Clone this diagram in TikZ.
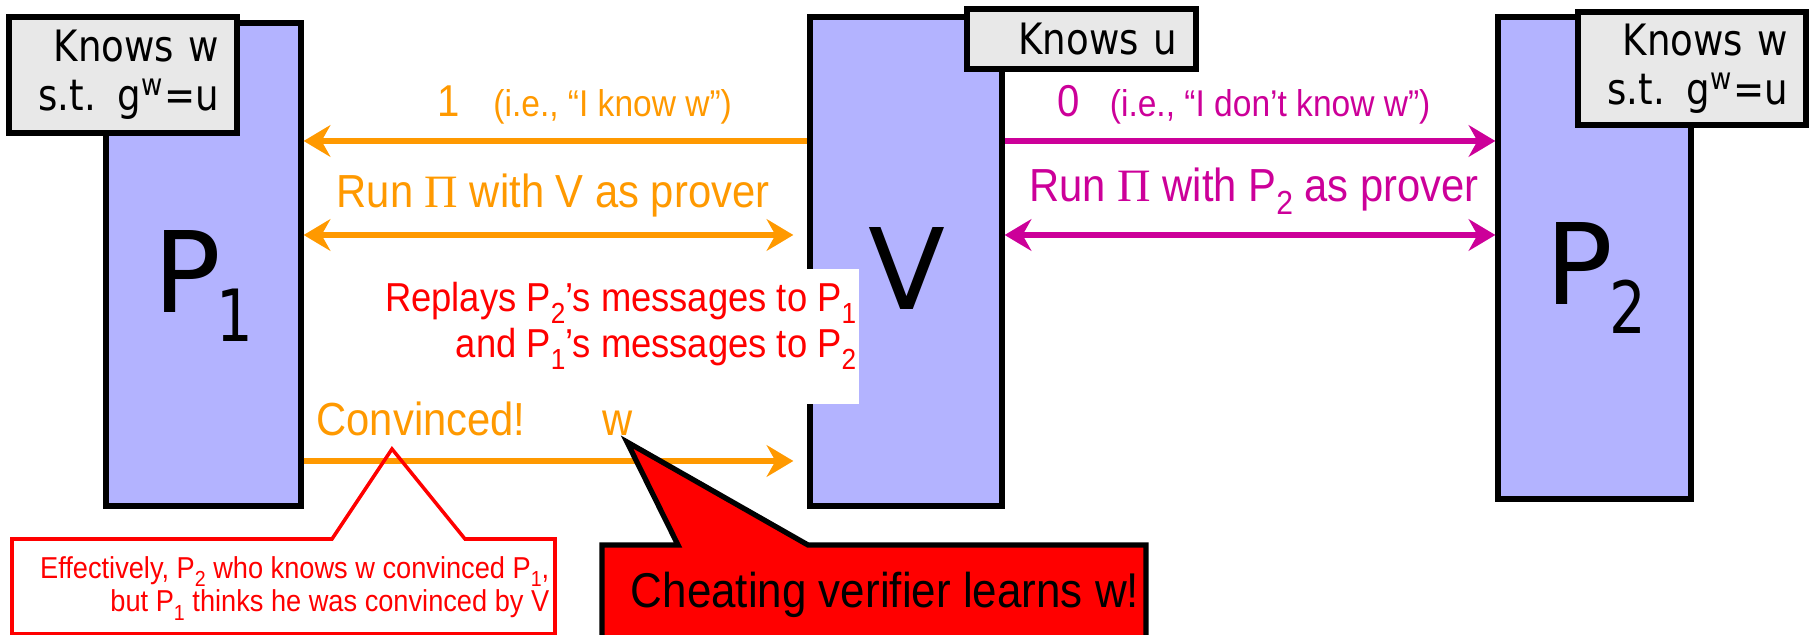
\documentclass[tikz,border=0pt]{standalone}
\usepackage{fontspec}
\usepackage{graphicx}
\setmainfont{Liberation Sans}[FakeStretch=0.9]
\newfontfamily\tfont{DejaVu Sans}[FakeStretch=0.86]
\newfontfamily\bigfont{DejaVu Sans}
\newfontfamily\bigsubfont{DejaVu Sans}[FakeStretch=0.8]
\newfontfamily\serifpi{Liberation Serif}
\usetikzlibrary{arrows.meta}
\definecolor{lav}{HTML}{B3B3FF}
\definecolor{boxgray}{HTML}{E8E8E8}
\definecolor{orng}{HTML}{FF9900}
\definecolor{mag}{HTML}{CC0099}
\definecolor{redc}{HTML}{FF0000}
\newcommand\lsub[1]{\raisebox{-0.28em}{\scalebox{0.72}{#1}}}
\newcommand\PI{{\serifpi\symbol{"03A0}}}
\newcommand\bigsub[1]{\raisebox{-8.2pt}{\bigsubfont\fontsize{20.5}{24}\selectfont #1}}
\tikzset{
  prover/.style={draw=black, line width=1.5pt, fill=lav, inner sep=0},
  knowbox/.style={draw=black, line width=1.6pt, fill=boxgray, inner ysep=0, align=right,
    font=\tfont\fontsize{12.3}{14}\selectfont},
  biglab/.style={inner sep=0, anchor=base west, font=\bigfont\fontsize{32}{38}\selectfont},
  tip/.style={-{Stealth[length=7.6pt,width=9pt,inset=2.5pt]}},
  dtip/.style={{Stealth[length=7.6pt,width=9pt,inset=2.5pt]}-{Stealth[length=7.6pt,width=9pt,inset=2.5pt]}},
  oline/.style={draw=orng, line width=1.5pt},
  mline/.style={draw=mag, line width=1.5pt},
  msgbig/.style={inner sep=0, anchor=base, font=\fontsize{13.2}{15}\selectfont},
  msgpair/.style={inner sep=0, anchor=base west, font=\fontsize{12.7}{15}\selectfont},
}
\begin{document}
\begin{tikzpicture}[x=0.1mm, y=-0.1mm]
\useasboundingbox (0,0) rectangle (1810,635);
% main boxes
\node[prover, minimum width=19.5mm, minimum height=48.3mm] (P1) at (203.5,264.5) {};
\node[prover, minimum width=19.2mm, minimum height=48.9mm] (V) at (906,261.5) {};
\node[prover, minimum width=19.3mm, minimum height=48.2mm] (P2) at (1594.5,258) {};
\node[biglab] (p1lab) at (153,313) {P\kern-1.5pt\bigsub{1}};
\node[biglab] (vlab) at (868,310) {V};
\node[biglab] (p2lab) at (1545,305) {P\kern-1.2pt\bigsub{2}};
% knowledge boxes
\node[knowbox, inner xsep=1.8mm, text width=19.2mm, minimum height=11.6mm] (kw1) at (123,75) {Knows w\\s.t. g\textsuperscript{w}=u};
\node[knowbox, inner xsep=1.9mm, text width=19.1mm, minimum height=6mm] (ku) at (1081.5,39) {Knows u};
\node[knowbox, inner xsep=1.8mm, text width=19.2mm, minimum height=11.3mm] (kw2) at (1692,68.5) {Knows w\\s.t. g\textsuperscript{w}=u};
% arrow rows
\coordinate (r1) at (0,141);
\coordinate (r2) at (0,235);
\coordinate (r3) at (0,461);
\draw[oline, tip] (V.west |- r1) -- (P1.east |- r1);
\draw[oline, dtip] (P1.east |- r2) -- ([xshift=-1.4mm]V.west |- r2);
\draw[mline, tip] (V.east |- r1) -- (P2.west |- r1);
\draw[mline, dtip] (V.east |- r2) -- (P2.west |- r2);
\draw[oline, tip] (P1.east |- r3) -- ([xshift=-1.4mm]V.west |- r3);
% labels
\node[msgpair, text=orng] (l1) at (437,117) {1\hspace{9.5pt}{\fontsize{10.6}{12}\selectfont (i.e., “I know w”)}};
\node[msgbig, text=orng] (l2) at (553,208) {Run \PI{} with V as prover};
\node[msgpair, text=mag] (l3) at (1057,117) {0\hspace{8.5pt}{\fontsize{10.6}{12}\selectfont (i.e., “I don’t know w”)}};
\node[msgbig, text=mag] (l4) at (1254,202) {Run \PI{} with P\lsub{2} as prover};
\node[msgbig, text=orng] (l5) at (421,436) {Convinced!};
\node[msgbig, text=orng] (l6) at (618,436) {w};
% replay note
\fill[white] (560,269) rectangle (859,404);
\node[inner sep=0, anchor=base east, align=right, text=redc, font=\fontsize{11.5}{13.1}\selectfont] (rep) at (857,358)
  {Replays P\lsub{2}’s messages to P\lsub{1}\\and P\lsub{1}’s messages to P\lsub{2}};
% callouts
\coordinate (apx1) at (392,449);
\coordinate (apx2) at (627,442);
\begin{scope}
\clip (0,0) rectangle (1810,635);
\draw[redc, line width=1pt] (12,539) -- (332,539) -- (apx1) -- (465,539) -- (555,539) -- (555,634) -- (12,634) -- cycle;
\filldraw[fill=redc, draw=black, line width=1.5pt, line join=miter] (602,545) -- (678,545) -- (apx2) -- (808,545) -- (1146,545) -- (1146,650) -- (602,650) -- cycle;
\end{scope}
\node[inner sep=0, anchor=base east, align=right, text=redc, font=\fontsize{8.6}{8.6}\selectfont] (eff) at (550,612)
  {Effectively, P\lsub{2} who knows w convinced P\lsub{1},\\but P\lsub{1} thinks he was convinced by V};
\node[inner sep=0, anchor=base, font=\fontsize{13.9}{17}\selectfont] (cheat) at (885,608) {Cheating verifier learns w!};
\end{tikzpicture}
\end{document}
